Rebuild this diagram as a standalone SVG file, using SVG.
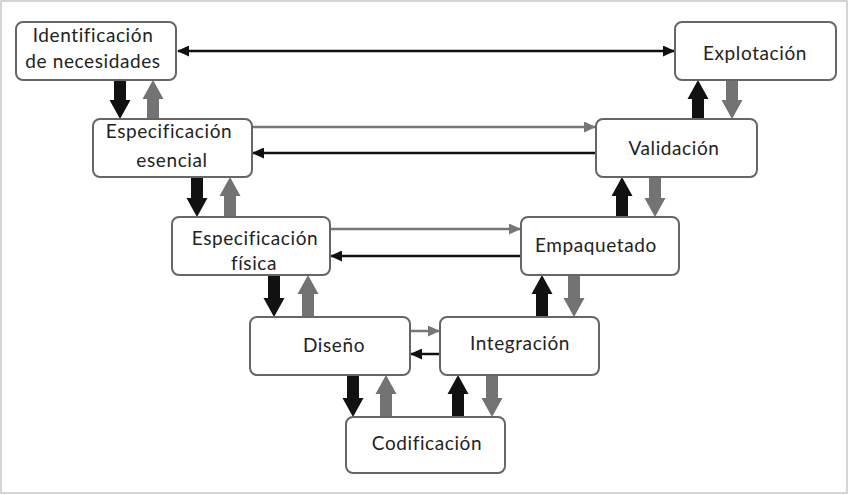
<svg xmlns="http://www.w3.org/2000/svg" width="850" height="495" viewBox="0 0 850 495">
<defs>
<style>
.box{fill:#fff;stroke:#666;stroke-width:2}
.t{font-family:Lato,"Liberation Sans",sans-serif;font-size:19px;letter-spacing:0.6px;font-variant-ligatures:none;fill:#222;text-anchor:middle}
.hb{stroke:#111;stroke-width:2.5;fill:none}
.hg{stroke:#777;stroke-width:2.5;fill:none}
.bb{fill:#111}
.bg{fill:#737373}
</style>
<marker id="mb" markerUnits="userSpaceOnUse" markerWidth="12" markerHeight="11" refX="11" refY="5.5" orient="auto-start-reverse"><path d="M0,0 L12,5.5 L0,11 Z" fill="#111"/></marker>
<marker id="mg" markerUnits="userSpaceOnUse" markerWidth="12" markerHeight="11" refX="11" refY="5.5" orient="auto"><path d="M0,0 L12,5.5 L0,11 Z" fill="#777"/></marker>
</defs>
<rect x="1" y="1" width="846" height="492" fill="#fff" stroke="#c8c8c8" stroke-width="1.5"/>
<g id="connectors">
<line class="hb" x1="178" y1="51" x2="674" y2="51" marker-start="url(#mb)" marker-end="url(#mb)"/>
<line class="hg" x1="253" y1="127" x2="595" y2="127" marker-end="url(#mg)"/>
<line class="hb" x1="596" y1="153" x2="253" y2="153" marker-end="url(#mb)"/>
<line class="hg" x1="331" y1="229" x2="520" y2="229" marker-end="url(#mg)"/>
<line class="hb" x1="521" y1="256" x2="331" y2="256" marker-end="url(#mb)"/>
<line class="hg" x1="411" y1="331" x2="439" y2="331" marker-end="url(#mg)"/>
<line class="hb" x1="440" y1="354" x2="411" y2="354" marker-end="url(#mb)"/>
<path class="bb" d="M114,80 H126 V100 H130.5 L120,119 L109.5,100 H114 Z"/>
<path class="bg" d="M147,119 H159 V99 H163.5 L153,80 L142.5,99 H147 Z"/>
<path class="bb" d="M191,177 H203 V198 H207.5 L197,217 L186.5,198 H191 Z"/>
<path class="bg" d="M224,217 H236 V196 H240.5 L230,177 L219.5,196 H224 Z"/>
<path class="bb" d="M268,275 H280 V298 H284.5 L274,317 L263.5,298 H268 Z"/>
<path class="bg" d="M302,317 H314 V294 H318.5 L308,275 L297.5,294 H302 Z"/>
<path class="bb" d="M347,375 H359 V398 H363.5 L353,417 L342.5,398 H347 Z"/>
<path class="bg" d="M380,417 H392 V394 H396.5 L386,375 L375.5,394 H380 Z"/>
<path class="bb" d="M452,417 H464 V394 H468.5 L458,375 L447.5,394 H452 Z"/>
<path class="bg" d="M486,375 H498 V398 H502.5 L492,417 L481.5,398 H486 Z"/>
<path class="bb" d="M536,317 H548 V294 H552.5 L542,275 L531.5,294 H536 Z"/>
<path class="bg" d="M568,275 H580 V298 H584.5 L574,317 L563.5,298 H568 Z"/>
<path class="bb" d="M616,217 H628 V196 H632.5 L622,177 L611.5,196 H616 Z"/>
<path class="bg" d="M649,177 H661 V198 H665.5 L655,217 L644.5,198 H649 Z"/>
<path class="bb" d="M692,119 H704 V99 H708.5 L698,80 L687.5,99 H692 Z"/>
<path class="bg" d="M726,80 H738 V100 H742.5 L732,119 L721.5,100 H726 Z"/>
</g>
<g id="n-identificacion"><rect class="box" x="16" y="22" width="160" height="58" rx="7"/><text class="t" x="93" y="42">Identificación</text><text class="t" x="93" y="68">de necesidades</text></g>
<g id="n-explotacion"><rect class="box" x="675" y="22" width="161" height="58" rx="7"/><text class="t" x="755" y="60">Explotación</text></g>
<g id="n-esp-esencial"><rect class="box" x="93" y="119" width="159" height="58" rx="7"/><text class="t" x="169" y="138">Especificación</text><text class="t" x="172" y="167">esencial</text></g>
<g id="n-validacion"><rect class="box" x="596" y="119" width="161" height="58" rx="7"/><text class="t" x="674" y="155">Validación</text></g>
<g id="n-esp-fisica"><rect class="box" x="172" y="217" width="158" height="58" rx="7"/><text class="t" x="255" y="245">Especificación</text><text class="t" x="254" y="270">física</text></g>
<g id="n-empaquetado"><rect class="box" x="521" y="217" width="158" height="58" rx="7"/><text class="t" x="596" y="252">Empaquetado</text></g>
<g id="n-diseno"><rect class="box" x="250" y="317" width="160" height="58" rx="7"/><text class="t" x="334" y="352">Diseño</text></g>
<g id="n-integracion"><rect class="box" x="440" y="317" width="159" height="58" rx="7"/><text class="t" x="520" y="350">Integración</text></g>
<g id="n-codificacion"><rect class="box" x="346" y="417" width="159" height="56" rx="7"/><text class="t" x="427" y="450">Codificación</text></g>
</svg>
